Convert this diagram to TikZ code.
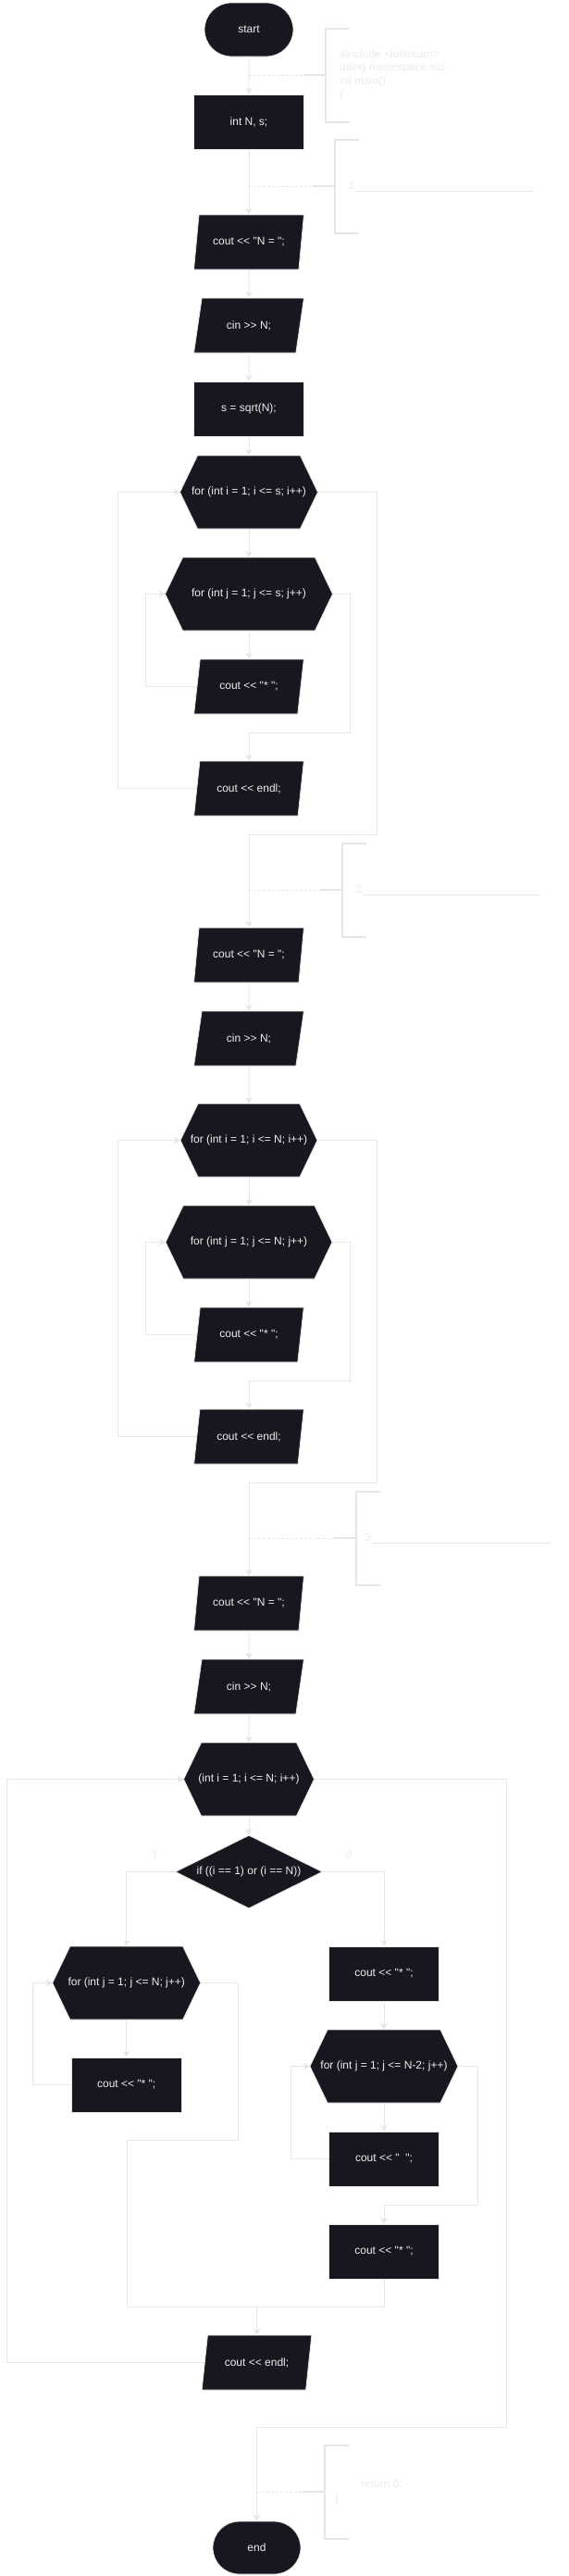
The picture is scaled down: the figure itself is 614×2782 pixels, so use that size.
\documentclass[tikz,border=0pt]{standalone}
\usepackage{fontspec}
\setmainfont{Liberation Sans}[Ligatures=TeXOff]
\usetikzlibrary{shapes.geometric,shapes.misc,arrows.meta}
\definecolor{ink}{HTML}{18171F}
\definecolor{wire}{HTML}{E6E6E6}
\definecolor{note}{HTML}{EBEBEB}
\def\Brace{-- ++(24,0) ++(26,-50.5) -- ++(-26,0) -- ++(0,101) -- ++(26,0)}
\tikzset{
  blk/.style={draw=wire, line width=.8pt, fill=ink, text=white!93!black, font=\fontsize{12}{14}\selectfont, inner sep=1pt},
  term/.style={blk, rounded rectangle, minimum width=98pt, minimum height=58pt},
  proc/.style={blk, rectangle, minimum width=119pt, minimum height=59pt},
  io/.style={blk, trapezium, trapezium left angle=71, trapezium right angle=109, trapezium stretches=true, minimum width=119pt, minimum height=59pt},
  cond/.style={blk, diamond, aspect=2, minimum width=159pt, minimum height=79pt, inner sep=0pt},
  hexa/.style={rectangle, inner sep=0pt, minimum width=#1, minimum height=79pt, text=white!93!black, font=\fontsize{12}{14}\selectfont,
    path picture={\draw[draw=wire, fill=ink, line width=.8pt] (path picture bounding box.west) -- ([xshift=19pt]path picture bounding box.north west) -- ([xshift=-19pt]path picture bounding box.north east) -- (path picture bounding box.east) -- ([xshift=-19pt]path picture bounding box.south east) -- ([xshift=19pt]path picture bounding box.south west) -- cycle;}},
  flow/.style={draw=wire, line width=1pt, -{Stealth[length=7pt,width=8pt]}},
  rail/.style={draw=wire, line width=1pt},
  hint/.style={draw=wire, line width=.8pt, dash pattern=on 3pt off 2pt},
  brace/.style={draw=wire, line width=2pt},
  tag/.style={text=note, font=\fontsize{12}{14.7}\selectfont, inner sep=0pt}
}

\begin{document}
\begin{tikzpicture}[x=1pt,y=-1pt]
  \useasboundingbox (0,0) rectangle (614,2782);

  \node[term] (start) at (269,32) {start};
  \node[proc] (decl) at (269,131.5) {int N, s;};
  \node[io] (coutA) at (269,261.5) {cout << "N = ";};
  \node[io] (cinA) at (269,351.5) {cin >> N;};
  \node[proc] (sqrtA) at (269,441.5) {s = sqrt(N);};
  \node[hexa=149pt] (foriA) at (269,531.5) {for (int i = 1; i <= s; i++)};
  \node[hexa=181pt] (forjA) at (269,641.5) {for (int j = 1; j <= s; j++)};
  \node[io] (starA) at (269,741.5) {cout << "* ";};
  \node[io] (endlA) at (269,851.5) {cout << endl;};

  \node[io] (coutB) at (269,1031.5) {cout << "N = ";};
  \node[io] (cinB) at (269,1121.5) {cin >> N;};
  \node[hexa=148pt] (foriB) at (269,1231.5) {for (int i = 1; i <= N; i++)};
  \node[hexa=180pt] (forjB) at (269,1341.5) {for (int j = 1; j <= N; j++)};
  \node[io] (starB) at (269,1441.5) {cout << "* ";};
  \node[io] (endlB) at (269,1551.5) {cout << endl;};

  \node[io] (coutC) at (269,1731.5) {cout << "N = ";};
  \node[io] (cinC) at (269,1821.5) {cin >> N;};
  \node[hexa=141pt] (loopC) at (269,1921.5) {(int i = 1; i <= N; i++)};
  \node[cond] (ifC) at (269,2021.5) {if ((i == 1) or (i == N))};
  \node[hexa=160pt] (forjL) at (136.7,2141.5) {for (int j = 1; j <= N; j++)};
  \node[proc] (starL) at (136.7,2251.5) {cout << "* ";};
  \node[proc] (starR1) at (415,2131.5) {cout << "* ";};
  \node[hexa=160pt] (forjR) at (415,2231.5) {for (int j = 1; j <= N-2; j++)};
  \node[proc] (gapR) at (415,2331.5) {cout << "\ \ ";};
  \node[proc] (starR2) at (415,2431.5) {cout << "* ";};
  \node[io] (endlC) at (277.5,2551.5) {cout << endl;};
  \node[term, minimum width=97pt, minimum height=57pt] (stop) at (277.5,2751.5) {end};

  \draw[flow] (start) -- (decl);
  \draw[flow] (decl) -- (coutA);
  \draw[flow] (coutA) -- (cinA);
  \draw[flow] (cinA) -- (sqrtA);
  \draw[flow] (sqrtA) -- (foriA);
  \draw[flow] (foriA) -- (forjA);
  \draw[flow] (forjA) -- (starA);
  \draw[flow] (starA.west) -| (157,641.5) -- (forjA.west);
  \draw[flow] (forjA.east) -| (378,791) -| (endlA.north);
  \draw[flow] (endlA.west) -| (127,531.5) -- (foriA.west);
  \draw[flow] (foriA.east) -| (407,901) -| (coutB.north);

  \draw[flow] (coutB) -- (cinB);
  \draw[flow] (cinB) -- (foriB);
  \draw[flow] (foriB) -- (forjB);
  \draw[flow] (forjB) -- (starB);
  \draw[flow] (starB.west) -| (157,1341.5) -- (forjB.west);
  \draw[flow] (forjB.east) -| (378,1491) -| (endlB.north);
  \draw[flow] (endlB.west) -| (127,1231.5) -- (foriB.west);
  \draw[flow] (foriB.east) -| (407,1601) -| (coutC.north);

  \draw[flow] (coutC) -- (cinC);
  \draw[flow] (cinC) -- (loopC);
  \draw[flow] (loopC) -- (ifC);
  \draw[flow] (ifC.west) -| (forjL.north);
  \draw[flow] (ifC.east) -| (starR1.north);
  \node[tag] (yes) at (167.6,2003) {1};
  \node[tag] (no) at (377,2003) {0};
  \draw[flow] (forjL) -- (starL);
  \draw[flow] (starL.west) -| (35,2141.5) -- (forjL.west);
  \draw[rail] (forjL.east) -| (257,2311) -| (137,2491) -| (starR2.south);
  \draw[flow] (starR1) -- (forjR);
  \draw[flow] (forjR) -- (gapR);
  \draw[flow] (gapR.west) -| (314,2231.5) -- (forjR.west);
  \draw[flow] (forjR.east) -| (516,2381) -| (starR2.north);
  \coordinate (joinC) at (277.5,2491);
  \draw[flow] (joinC) -- (endlC);
  \draw[flow] (endlC.west) -| (7,1921.5) -- (loopC.west);
  \draw[flow] (loopC.east) -| (547,2621) -| (stop.north);

  \coordinate (noteA) at (328,81);
  \draw[hint] (noteA -| start) -- (noteA);
  \draw[brace] (noteA) \Brace;
  \node[tag, anchor=west, align=left] (head) at (367,81) {\#include <iostream>\\using namespace std;\\int main()\\\{};

  \coordinate (noteB) at (338,201);
  \draw[hint] (noteB -| decl) -- (noteB);
  \draw[brace] (noteB) \Brace;
  \node[tag] (one) at (380,200) {1};
  \draw[rail] (383,206) -- ++(194,0);

  \coordinate (noteC) at (346,961);
  \draw[hint] (noteC -| coutB) -- (noteC);
  \draw[brace] (noteC) \Brace;
  \node[tag] (two) at (388,960) {2};
  \draw[rail] (392,966) -- ++(193,0);

  \coordinate (noteD) at (361,1661);
  \draw[hint] (noteD -| coutC) -- (noteD);
  \draw[brace] (noteD) \Brace;
  \node[tag] (three) at (398,1660) {3};
  \draw[rail] (402,1666) -- ++(194,0);

  \coordinate (noteE) at (327,2691);
  \draw[hint] (noteE -| stop) -- (noteE);
  \draw[brace] (noteE) \Brace;
  \node[tag, anchor=west] (ret) at (390,2683) {return 0;};
  \node[tag, anchor=west] (close) at (362,2699) {\}};
\end{tikzpicture}
\end{document}
